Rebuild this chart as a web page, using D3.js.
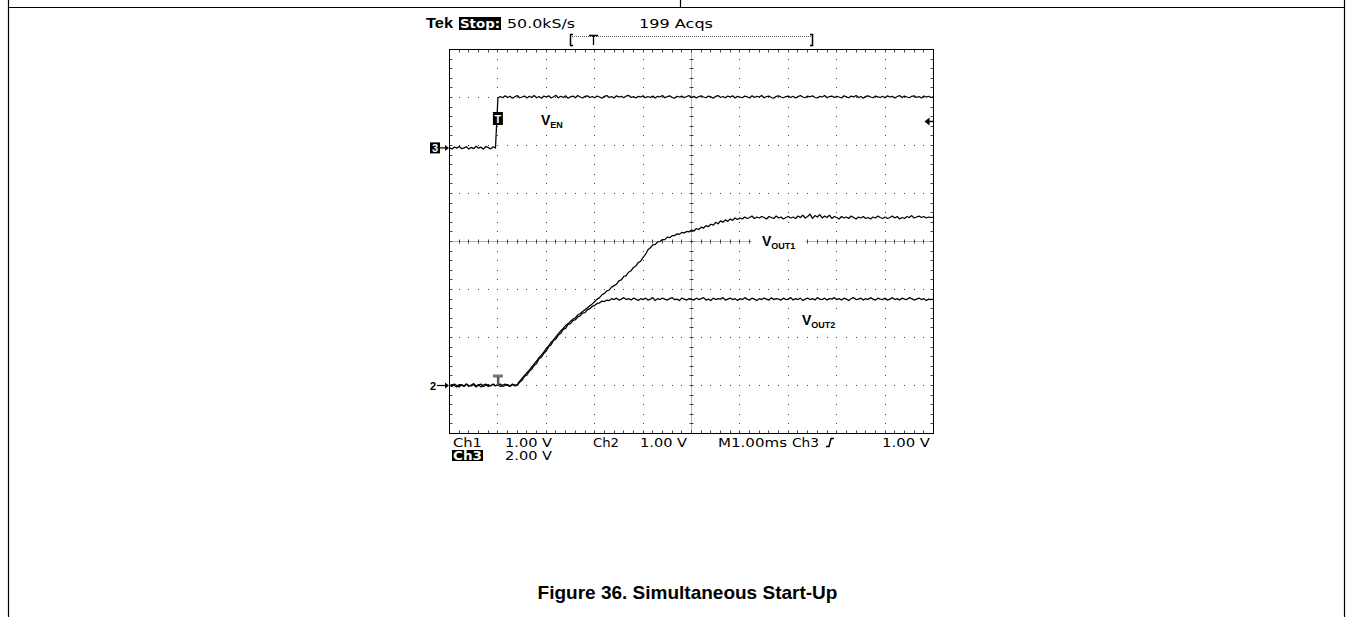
<!DOCTYPE html>
<html><head><meta charset="utf-8">
<script src="https://cdn.jsdelivr.net/npm/d3@7"></script>
<style>html,body{margin:0;padding:0;background:#fff;} svg{display:block;}</style>
</head><body><svg id="c" width="1353" height="617"></svg>
<script>
// ---- scope settings ----
const sampleStepMs = 0.05;          // time between samples (ms)
const timeDivisions = 10;           // M1.00ms per division
const msPerDiv = 1.0;
const ch1VoltsPerDiv = 1.0;         // Ch1 1.00 V
const ch2VoltsPerDiv = 1.0;         // Ch2 1.00 V
const ch3VoltsPerDiv = 2.0;         // Ch3 2.00 V
const ch12GroundDiv = -3.0;         // "2->" ground marker position (divisions from centre)
const ch3GroundDiv = 1.95;          // "3->" ground marker position
const ch3TriggerLevelV = 1.1;       // trigger level arrow on right edge
const triggerTimeMs = 1.0;          // "T" trigger marker

// ---- text ----
const headerTexts = ["Tek", "Stop:", "50.0kS/s", "199 Acqs"];
const footerRow1 = ["Ch1", "1.00 V", "Ch2", "1.00 V", "M1.00ms", "Ch3", "1.00 V"];
const footerRow2 = ["Ch3", "2.00 V"];
const traceLabels = [["V", "EN"], ["V", "OUT1"], ["V", "OUT2"]];
const caption = "Figure 36. Simultaneous Start-Up";

// ---- waveforms (volts, one sample every 0.05 ms, 0..10 ms) ----
const vEN = [
 0.02,-0.05,0.04,-0.01,0.06,-0.03,0.00,0.05,-0.05,0.02,-0.03,0.07,-0.01,0.03,-0.05,0.06,0.01,-0.04,0.05,0.00,
 2.08,2.14,2.09,2.17,2.10,2.15,2.07,2.13,2.18,2.09,2.12,2.16,2.08,2.15,2.10,2.18,2.09,2.14,2.07,2.16,
 2.12,2.17,2.08,2.13,2.19,2.09,2.15,2.10,2.17,2.07,2.13,2.16,2.09,2.18,2.12,2.08,2.15,2.17,2.10,2.14,
 2.09,2.16,2.12,2.07,2.15,2.18,2.10,2.14,2.08,2.17,2.12,2.15,2.09,2.16,2.19,2.10,2.14,2.08,2.15,2.12,
 2.17,2.09,2.14,2.10,2.16,2.08,2.15,2.12,2.18,2.09,2.14,2.17,2.10,2.07,2.15,2.12,2.16,2.09,2.14,2.18,
 2.10,2.15,2.08,2.14,2.17,2.12,2.09,2.16,2.13,2.07,2.15,2.18,2.10,2.14,2.09,2.16,2.12,2.17,2.08,2.15,
 2.12,2.09,2.16,2.13,2.08,2.17,2.10,2.15,2.12,2.18,2.09,2.14,2.16,2.10,2.07,2.15,2.17,2.12,2.09,2.14,
 2.16,2.10,2.15,2.08,2.14,2.18,2.12,2.09,2.16,2.13,2.17,2.10,2.08,2.15,2.12,2.18,2.09,2.14,2.16,2.10,
 2.15,2.12,2.08,2.17,2.13,2.09,2.16,2.12,2.18,2.10,2.14,2.07,2.15,2.17,2.12,2.09,2.16,2.13,2.10,2.15,
 2.09,2.17,2.12,2.15,2.08,2.14,2.18,2.10,2.16,2.12,2.09,2.15,2.17,2.10,2.14,2.08,2.16,2.12,2.15,2.10,
 2.13
];
const vOUT1 = [
 -0.01,0.02,0.00,-0.03,0.02,0.01,-0.02,0.03,0.00,-0.01,0.02,-0.03,0.01,0.03,-0.02,0.00,0.02,-0.01,0.03,0.00,
 0.01,0.03,-0.02,0.00,0.02,-0.01,0.03,0.01,0.02,0.09,0.15,0.21,0.27,0.32,0.39,0.45,0.51,0.58,0.64,0.70,
 0.77,0.83,0.90,0.95,1.02,1.08,1.14,1.19,1.25,1.29,1.34,1.38,1.41,1.47,1.50,1.54,1.58,1.62,1.66,1.70,
 1.75,1.80,1.83,1.89,1.92,1.97,1.99,2.05,2.08,2.11,2.18,2.20,2.27,2.29,2.36,2.39,2.46,2.49,2.56,2.59,
 2.67,2.73,2.83,2.87,2.93,2.94,2.99,3.00,3.04,3.04,3.09,3.08,3.12,3.12,3.16,3.15,3.19,3.18,3.21,3.20,
 3.24,3.22,3.27,3.25,3.30,3.28,3.33,3.31,3.36,3.34,3.40,3.37,3.43,3.40,3.45,3.42,3.47,3.44,3.49,3.46,
 3.49,3.47,3.51,3.48,3.50,3.53,3.48,3.51,3.49,3.52,3.50,3.47,3.52,3.50,3.48,3.53,3.49,3.51,3.47,3.50,
 3.52,3.49,3.51,3.48,3.53,3.50,3.55,3.49,3.52,3.57,3.48,3.54,3.51,3.56,3.49,3.53,3.50,3.55,3.48,3.52,
 3.50,3.47,3.52,3.49,3.51,3.48,3.53,3.50,3.47,3.51,3.49,3.52,3.48,3.50,3.47,3.51,3.49,3.53,3.50,3.48,
 3.51,3.48,3.50,3.53,3.49,3.52,3.47,3.50,3.48,3.52,3.50,3.54,3.49,3.51,3.53,3.50,3.52,3.49,3.51,3.50,
 3.51
];
const vOUT2 = [
 0.01,-0.02,0.03,0.00,-0.03,0.02,-0.01,0.03,-0.02,0.01,0.04,-0.01,0.02,-0.03,0.01,0.03,-0.02,0.00,0.02,-0.01,
 0.02,-0.02,0.01,0.03,0.00,-0.02,0.02,-0.01,0.00,0.07,0.11,0.19,0.22,0.30,0.34,0.42,0.46,0.56,0.59,0.67,
 0.72,0.81,0.85,0.94,0.97,1.05,1.09,1.17,1.19,1.27,1.29,1.35,1.37,1.43,1.45,1.51,1.52,1.58,1.60,1.65,
 1.67,1.71,1.72,1.76,1.75,1.78,1.77,1.81,1.79,1.82,1.78,1.80,1.83,1.79,1.81,1.78,1.82,1.80,1.77,1.81,
 1.79,1.82,1.78,1.80,1.83,1.77,1.81,1.79,1.82,1.80,1.78,1.81,1.83,1.79,1.80,1.77,1.82,1.80,1.78,1.81,
 1.80,1.78,1.82,1.79,1.81,1.83,1.78,1.80,1.77,1.82,1.79,1.81,1.80,1.83,1.78,1.80,1.82,1.79,1.81,1.77,
 1.81,1.79,1.83,1.80,1.78,1.82,1.80,1.77,1.81,1.79,1.82,1.80,1.78,1.83,1.79,1.81,1.80,1.78,1.82,1.79,
 1.80,1.83,1.78,1.81,1.79,1.82,1.77,1.80,1.82,1.79,1.81,1.78,1.83,1.80,1.79,1.82,1.78,1.81,1.80,1.83,
 1.79,1.81,1.78,1.82,1.80,1.77,1.81,1.83,1.79,1.80,1.82,1.78,1.81,1.79,1.83,1.80,1.78,1.82,1.80,1.79,
 1.82,1.78,1.80,1.83,1.79,1.81,1.78,1.82,1.80,1.79,1.83,1.81,1.78,1.80,1.82,1.79,1.81,1.77,1.80,1.79,
 1.80
];

const svg = d3.select('#c');
const FONT = "'DejaVu Sans', Verdana, sans-serif";
const ARIAL = "'Liberation Sans', Arial, Helvetica, sans-serif";

// ---- page frame lines ----
const page = svg.append('g').attr('stroke', '#000').attr('stroke-width', 1.2).attr('fill', 'none');
page.append('line').attr('x1', 8.5).attr('x2', 8.5).attr('y1', 0).attr('y2', 617);
page.append('line').attr('x1', 1344.5).attr('x2', 1344.5).attr('y1', 0).attr('y2', 617);
page.append('line').attr('x1', 8).attr('x2', 1345).attr('y1', 7.5).attr('y2', 7.5);
page.append('line').attr('x1', 680.5).attr('x2', 680.5).attr('y1', 0).attr('y2', 7.5);

// ---- scales (time in ms, vertical in divisions) ----
const x = d3.scaleLinear().domain([0, timeDivisions * msPerDiv]).range([449.5, 933.5]);
const y = d3.scaleLinear().domain([-4, 4]).range([433.5, 49.5]);

// ---- graticule ----
const grat = svg.append('g');
const minorT = d3.range(0, 51).map(i => i * 0.2 * msPerDiv);
const minorV = d3.range(0, 41).map(i => -4 + i * 0.2);
const dots = [];
[1, 2, 3, 4, 6, 7, 8, 9].forEach(k => minorV.forEach(v => dots.push([x(k * msPerDiv), y(v)])));
[-3, -2, -1, 1, 2, 3].forEach(k => minorT.forEach(t => dots.push([x(t), y(k)])));
grat.selectAll('rect.dot').data(dots).join('rect').attr('class', 'dot')
  .attr('x', d => Math.floor(d[0])).attr('y', d => Math.floor(d[1]))
  .attr('width', 1).attr('height', 1).attr('fill', '#444');

// centre lines
const cx = x(5 * msPerDiv), cy = y(0);
grat.append('line').attr('x1', cx).attr('x2', cx).attr('y1', y(4)).attr('y2', y(-4))
  .attr('stroke', '#666').attr('stroke-dasharray', '1,1');
grat.append('line').attr('x1', x(0)).attr('x2', x(10)).attr('y1', cy).attr('y2', cy)
  .attr('stroke', '#666').attr('stroke-dasharray', '1,1');
grat.selectAll('line.ct').data(minorT).join('line').attr('class', 'ct')
  .attr('x1', d => Math.floor(x(d)) + 0.5).attr('x2', d => Math.floor(x(d)) + 0.5)
  .attr('y1', cy - 2).attr('y2', cy + 2).attr('stroke', '#444');
grat.selectAll('line.cv').data(minorV).join('line').attr('class', 'cv')
  .attr('y1', d => Math.floor(y(d)) + 0.5).attr('y2', d => Math.floor(y(d)) + 0.5)
  .attr('x1', cx - 2).attr('x2', cx + 2).attr('stroke', '#444');
// edge ticks
grat.selectAll('line.et').data(minorT).join('line').attr('class', 'et')
  .attr('x1', d => Math.floor(x(d)) + 0.5).attr('x2', d => Math.floor(x(d)) + 0.5)
  .attr('y1', y(4)).attr('y2', y(4) + 3).attr('stroke', '#444');
grat.selectAll('line.eb').data(minorT).join('line').attr('class', 'eb')
  .attr('x1', d => Math.floor(x(d)) + 0.5).attr('x2', d => Math.floor(x(d)) + 0.5)
  .attr('y1', y(-4) - 3).attr('y2', y(-4)).attr('stroke', '#444');
grat.selectAll('line.el').data(minorV).join('line').attr('class', 'el')
  .attr('y1', d => Math.floor(y(d)) + 0.5).attr('y2', d => Math.floor(y(d)) + 0.5)
  .attr('x1', x(0)).attr('x2', x(0) + 3).attr('stroke', '#444');
grat.selectAll('line.er').data(minorV).join('line').attr('class', 'er')
  .attr('y1', d => Math.floor(y(d)) + 0.5).attr('y2', d => Math.floor(y(d)) + 0.5)
  .attr('x1', x(10) - 3).attr('x2', x(10)).attr('stroke', '#444');
// frame
grat.append('rect').attr('x', x(0)).attr('y', y(4)).attr('width', x(10) - x(0)).attr('height', y(-4) - y(4))
  .attr('fill', 'none').attr('stroke', '#000').attr('stroke-width', 1);

// ---- trace labels (white backed) ----
const lab = svg.append('g');
const labelPos = [[541, 125], [762, 246], [802, 325]];
traceLabels.forEach((l, i) => {
  const [lx, ly] = labelPos[i];
  const t = lab.append('text').attr('x', lx).attr('y', ly).attr('font-family', ARIAL)
    .attr('font-weight', 'bold').attr('font-size', 14).attr('fill', '#000');
  t.append('tspan').text(l[0]);
  t.append('tspan').attr('font-size', 9).attr('dy', 3).text(l[1]);
  const bb = t.node().getBBox();
  lab.insert('rect', 'text').attr('x', bb.x - 10).attr('y', bb.y - 2).attr('width', bb.width + 20)
    .attr('height', bb.height + 4).attr('fill', '#fff');
});

// ---- traces ----
const traceLine = (groundDiv, vpd) => d3.line()
  .x((d, i) => x(i * sampleStepMs)).y(d => y(groundDiv + d / vpd));
const traces = svg.append('g').attr('fill', 'none').attr('stroke', '#000')
  .attr('stroke-width', 1.25).attr('stroke-linejoin', 'round');
traces.append('path').attr('d', traceLine(ch12GroundDiv, ch2VoltsPerDiv)(vOUT2));
traces.append('path').attr('d', traceLine(ch12GroundDiv, ch1VoltsPerDiv)(vOUT1));
traces.append('path').attr('d', traceLine(ch3GroundDiv, ch3VoltsPerDiv)(vEN));

// ---- markers ----
const mk = svg.append('g');
// Ch3 ground "3->"
const g3 = y(ch3GroundDiv);
mk.append('rect').attr('x', 430).attr('y', g3 - 5.5).attr('width', 10).attr('height', 11).attr('fill', '#000');
mk.append('text').attr('x', 435).attr('y', g3 + 4).attr('text-anchor', 'middle').attr('font-family', ARIAL)
  .attr('font-weight', 'bold').attr('font-size', 11).attr('fill', '#fff').text('3');
mk.append('line').attr('x1', 440).attr('x2', 446).attr('y1', g3).attr('y2', g3).attr('stroke', '#000').attr('stroke-width', 1.2);
mk.append('path').attr('d', `M445,${g3 - 3}L449,${g3}L445,${g3 + 3}Z`).attr('fill', '#000');
// Ch1/Ch2 ground "2->"
const g2 = y(ch12GroundDiv);
mk.append('text').attr('x', 430).attr('y', g2 + 4).attr('font-family', ARIAL)
  .attr('font-weight', 'bold').attr('font-size', 11).attr('fill', '#000').text('2');
mk.append('line').attr('x1', 437).attr('x2', 446).attr('y1', g2).attr('y2', g2).attr('stroke', '#000').attr('stroke-width', 1.2);
mk.append('path').attr('d', `M445,${g2 - 3}L449,${g2}L445,${g2 + 3}Z`).attr('fill', '#000');
// trigger position T box
const tx = x(triggerTimeMs);
mk.append('rect').attr('x', tx - 5).attr('y', 112).attr('width', 10).attr('height', 13).attr('fill', '#000');
mk.append('text').attr('x', tx).attr('y', 123).attr('text-anchor', 'middle').attr('font-family', ARIAL)
  .attr('font-weight', 'bold').attr('font-size', 11).attr('fill', '#fff').text('T');
// grey T on Ch2 ground
mk.append('rect').attr('x', tx - 5).attr('y', g2 - 11).attr('width', 10).attr('height', 3).attr('fill', '#777');
mk.append('rect').attr('x', tx - 1).attr('y', g2 - 9).attr('width', 2.5).attr('height', 9).attr('fill', '#555');
// trigger level arrow at right edge
const tl = y(ch3GroundDiv + ch3TriggerLevelV / ch3VoltsPerDiv);
mk.append('path').attr('d', `M924.5,${tl}L929.5,${tl - 4}L929.5,${tl + 4}Z`).attr('fill', '#000');
mk.append('line').attr('x1', 928).attr('x2', 933).attr('y1', tl).attr('y2', tl).attr('stroke', '#000').attr('stroke-width', 1.5);

// ---- header ----
const hdr = svg.append('g').attr('font-family', FONT).attr('font-size', 13).attr('fill', '#000');
hdr.append('text').attr('x', 426).attr('y', 28).attr('font-weight', 'bold').attr('font-family', ARIAL)
  .attr('font-size', 14).attr('textLength', 27).attr('lengthAdjust', 'spacingAndGlyphs').text(headerTexts[0]);
hdr.append('rect').attr('x', 459).attr('y', 17).attr('width', 42).attr('height', 13).attr('fill', '#000');
hdr.append('text').attr('x', 460).attr('y', 28).attr('font-weight', 'bold').attr('fill', '#fff')
  .attr('textLength', 40).attr('lengthAdjust', 'spacingAndGlyphs').text(headerTexts[1]);
hdr.append('text').attr('x', 507).attr('y', 28).attr('textLength', 68).attr('lengthAdjust', 'spacingAndGlyphs').text(headerTexts[2]);
hdr.append('text').attr('x', 639).attr('y', 28).attr('textLength', 74).attr('lengthAdjust', 'spacingAndGlyphs').text(headerTexts[3]);
// record window bracket
const br = svg.append('g').attr('stroke', '#000').attr('fill', 'none');
br.append('path').attr('d', 'M573,34.5H570.5V45.5H573').attr('stroke-width', 1.5);
br.append('path').attr('d', 'M810,34.5H812.5V45.5H810').attr('stroke-width', 1.5);
br.append('line').attr('x1', 572).attr('x2', 811).attr('y1', 36.5).attr('y2', 36.5).attr('stroke', '#555').attr('stroke-dasharray', '1,1');
br.append('path').attr('d', 'M589,35.5H598M593.5,35.5V45').attr('stroke-width', 1.3);

// ---- footer readouts ----
const ft = svg.append('g').attr('font-family', FONT).attr('font-size', 11.5).attr('fill', '#000');
const row1X = [453, 505, 593, 640, 718, 792, 882];
const row1W = [29, 47, 26, 47, 69, 27, 48];
footerRow1.forEach((s, i) => ft.append('text').attr('x', row1X[i]).attr('y', 446.5)
  .attr('textLength', row1W[i]).attr('lengthAdjust', 'spacingAndGlyphs').text(s));
// rising-edge symbol
ft.append('path').attr('d', 'M826,446.5H829L831,438.5H834').attr('stroke', '#000').attr('stroke-width', 1.5).attr('fill', 'none');
ft.append('rect').attr('x', 452).attr('y', 450).attr('width', 31).attr('height', 11).attr('fill', '#000');
ft.append('text').attr('x', 453).attr('y', 460).attr('fill', '#fff').attr('font-weight', 'bold')
  .attr('textLength', 29).attr('lengthAdjust', 'spacingAndGlyphs').text(footerRow2[0]);
ft.append('text').attr('x', 505).attr('y', 460).attr('textLength', 47).attr('lengthAdjust', 'spacingAndGlyphs').text(footerRow2[1]);

// ---- caption ----
svg.append('text').attr('x', 687.5).attr('y', 599).attr('text-anchor', 'middle')
  .attr('font-family', ARIAL).attr('font-weight', 'bold').attr('font-size', 19).attr('fill', '#000').text(caption);
</script></body></html>
